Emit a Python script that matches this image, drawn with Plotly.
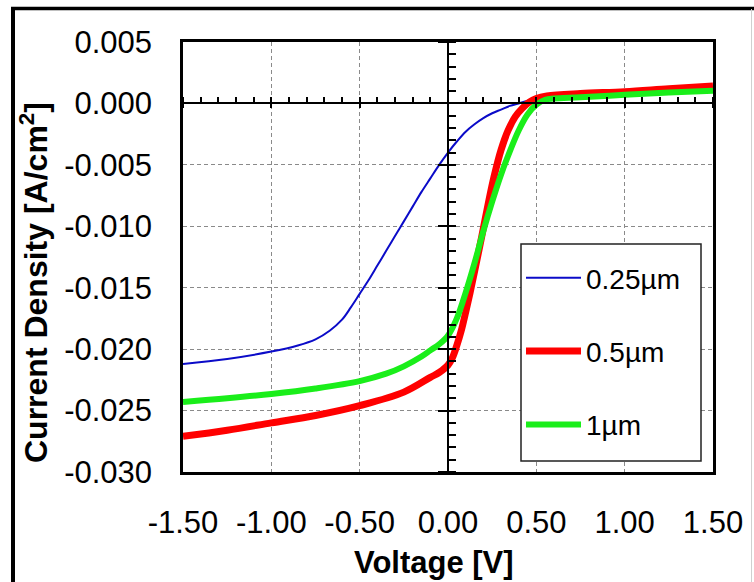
import plotly.graph_objects as go

# J-V characteristics for three absorber thicknesses
V_025 = [-1.5, -1.25, -1.0, -0.85, -0.75, -0.67, -0.6, -0.55, -0.5, -0.45, -0.4, -0.35,
         -0.3, -0.25, -0.2, -0.15, -0.1, -0.05, 0.0, 0.05, 0.1, 0.15, 0.2, 0.25, 0.3,
         0.35, 0.4, 0.45, 0.5, 0.75, 1.0, 1.25, 1.5]
J_025 = [-0.0212, -0.0208, -0.0202, -0.0197, -0.0192, -0.0185, -0.0176, -0.0166, -0.0155,
         -0.0144, -0.0132, -0.0120, -0.0108, -0.0096, -0.0084, -0.0072, -0.0061, -0.0050,
         -0.0040, -0.0031, -0.0023, -0.0017, -0.0012, -0.0008, -0.0005, -0.0002, 0.0000,
         0.0002, 0.0003, 0.0006, 0.0008, 0.0010, 0.0012]

V_05 = [-1.5, -1.25, -1.0, -0.75, -0.5, -0.25, -0.1, -0.05, 0.0, 0.025, 0.05, 0.075, 0.1,
        0.125, 0.15, 0.19, 0.23, 0.26, 0.3, 0.34, 0.38, 0.42, 0.46, 0.5, 0.56, 0.75, 1.0,
        1.25, 1.5]
J_05 = [-0.0271, -0.0266, -0.0260, -0.0254, -0.0246, -0.0235, -0.0223, -0.0219, -0.0213,
        -0.0207, -0.0197, -0.0185, -0.0170, -0.0154, -0.0137, -0.0109, -0.0080, -0.0060,
        -0.0038, -0.0022, -0.0011, -0.0004, 0.0001, 0.0004, 0.0006, 0.0008, 0.00096,
        0.0012, 0.00142]

V_1 = [-1.5, -1.25, -1.0, -0.75, -0.5, -0.35, -0.25, -0.15, -0.1, -0.05, 0.0, 0.05, 0.1,
       0.15, 0.2, 0.25, 0.3, 0.35, 0.4, 0.45, 0.5, 0.55, 0.6, 0.75, 1.0, 1.25, 1.5]
J_1 = [-0.0243, -0.0240, -0.02365, -0.0232, -0.0226, -0.0220, -0.0214, -0.0206, -0.0201,
       -0.0196, -0.0189, -0.0175, -0.0154, -0.0130, -0.0104, -0.0080, -0.0058, -0.0039,
       -0.0022, -0.0009, -0.0001, 0.0003, 0.0004, 0.0005, 0.0007, 0.00088, 0.00104]

SERIES_NAMES = ["0.25µm", "0.5µm", "1µm"]

X_TICKS = [-1.5, -1.0, -0.5, 0.0, 0.5, 1.0, 1.5]
X_TICK_LABELS = ["-1.50", "-1.00", "-0.50", "0.00", "0.50", "1.00", "1.50"]
Y_TICKS = [0.005, 0.0, -0.005, -0.010, -0.015, -0.020, -0.025, -0.030]
Y_TICK_LABELS = ["0.005", "0.000", "-0.005", "-0.010", "-0.015", "-0.020", "-0.025", "-0.030"]

X_RANGE = [-1.5, 1.5]
Y_RANGE = [-0.030, 0.005]

FONT = "Liberation Sans, Arial, sans-serif"
W, H = 754, 582
ML, MR, MT, MB = 183, 41, 42, 110
PW, PH = W - ML - MR, H - MT - MB


def px_x(p):
    return (p - ML) / PW


def px_y(p):
    return (H - MB - p) / PH


fig = go.Figure()

styles = [
    dict(color="#0b0bc8", width=2),
    dict(color="#ff0000", width=7),
    dict(color="#1aee1a", width=6),
]
for i, (vx, jy) in enumerate([(V_025, J_025), (V_05, J_05), (V_1, J_1)]):
    fig.add_trace(go.Scatter(
        x=vx, y=jy, mode="lines", name=SERIES_NAMES[i],
        line=dict(shape="spline", smoothing=1.0, **styles[i]),
        legendgroup=f"g{i}",
    ))

# helper traces that carry the zero-crossing axes
fig.add_trace(go.Scatter(x=[], y=[], xaxis="x2", yaxis="y2", showlegend=False, hoverinfo="skip"))
fig.add_trace(go.Scatter(x=[], y=[], xaxis="x3", yaxis="y3", showlegend=False, hoverinfo="skip"))

grid = dict(showgrid=True, gridcolor="#8a8a8a", griddash="4px,3px", gridwidth=1)
zero_y_pos = (0 - Y_RANGE[0]) / (Y_RANGE[1] - Y_RANGE[0])
zero_x_pos = (0 - X_RANGE[0]) / (X_RANGE[1] - X_RANGE[0])

fig.update_layout(
    width=W, height=H,
    margin=dict(l=ML, r=MR, t=MT, b=MB),
    paper_bgcolor="white", plot_bgcolor="white",
    font=dict(family=FONT, size=31, color="black"),
    showlegend=True,
    legend=dict(
        x=px_x(521), y=px_y(253), xanchor="left", yanchor="top",
        bgcolor="rgba(0,0,0,0)", borderwidth=0,
        font=dict(family=FONT, size=28, color="black"),
        tracegroupgap=34, itemwidth=55,
    ),
    xaxis=dict(
        range=X_RANGE, tickvals=X_TICKS, ticktext=X_TICK_LABELS,
        showline=True, mirror=True, linecolor="black", linewidth=2.5,
        ticks="", zeroline=False, ticklabelstandoff=21, **grid,
    ),
    yaxis=dict(
        range=Y_RANGE, tickvals=Y_TICKS, ticktext=Y_TICK_LABELS,
        showline=True, mirror=True, linecolor="black", linewidth=2.5,
        ticks="", zeroline=False, ticklabelstandoff=22, **grid,
    ),
    # horizontal axis through J = 0
    xaxis2=dict(
        range=X_RANGE, overlaying="x", anchor="free", position=zero_y_pos,
        showline=True, linecolor="black", linewidth=1.5,
        ticks="outside", ticklen=4, tickwidth=1.5, tickcolor="black", dtick=0.5, tick0=0,
        showticklabels=False, showgrid=False, zeroline=False,
        minor=dict(ticks="inside", ticklen=6, tickwidth=1.5, tickcolor="black",
                   dtick=0.1, tick0=0, showgrid=False),
    ),
    xaxis3=dict(
        range=X_RANGE, overlaying="x", anchor="free", position=zero_y_pos,
        showline=False, ticks="inside", ticklen=6, tickwidth=1.5, tickcolor="black",
        dtick=0.5, tick0=0, showticklabels=False, showgrid=False, zeroline=False,
    ),
    # vertical axis through V = 0
    yaxis2=dict(
        range=Y_RANGE, overlaying="y", anchor="free", position=zero_x_pos,
        showline=True, linecolor="black", linewidth=1.5,
        ticks="outside", ticklen=9, tickwidth=1.5, tickcolor="black", dtick=0.005, tick0=0,
        showticklabels=False, showgrid=False, zeroline=False,
        minor=dict(ticks="inside", ticklen=7, tickwidth=1.5, tickcolor="black",
                   dtick=0.001, tick0=0, showgrid=False),
    ),
    yaxis3=dict(
        range=Y_RANGE, overlaying="y", anchor="free", position=zero_x_pos,
        showline=False, ticks="inside", ticklen=7, tickwidth=1.5, tickcolor="black",
        dtick=0.005, tick0=0, showticklabels=False, showgrid=False, zeroline=False,
    ),
    annotations=[
        dict(text="<b>Voltage [V]</b>", xref="paper", yref="paper",
             x=px_x(434), y=px_y(562), xanchor="center", yanchor="middle",
             showarrow=False, font=dict(family=FONT, size=31, color="black")),
        dict(text="<b>Current Density [A/cm<sup>2</sup>]</b>", xref="paper", yref="paper",
             x=px_x(34), y=px_y(283), xanchor="center", yanchor="middle", textangle=-90,
             showarrow=False, font=dict(family=FONT, size=32, color="black")),
    ],
    shapes=[
        # legend frame
        dict(type="rect", xref="paper", yref="paper", layer="above",
             x0=px_x(521), x1=px_x(701), y0=px_y(244), y1=px_y(461),
             fillcolor="white", line=dict(color="#222", width=1.5)),
        # outer frame of the figure
        dict(type="line", xref="paper", yref="paper", x0=px_x(13), x1=px_x(13),
             y0=px_y(7), y1=px_y(600), line=dict(color="black", width=4)),
        dict(type="line", xref="paper", yref="paper", x0=px_x(11), x1=px_x(760),
             y0=px_y(8.5), y1=px_y(8.5), line=dict(color="black", width=3.5)),
        dict(type="line", xref="paper", yref="paper", x0=px_x(751.5), x1=px_x(751.5),
             y0=px_y(9), y1=px_y(600), line=dict(color="#d0d0d0", width=1)),
    ],
)

fig.write_html("out.html")
